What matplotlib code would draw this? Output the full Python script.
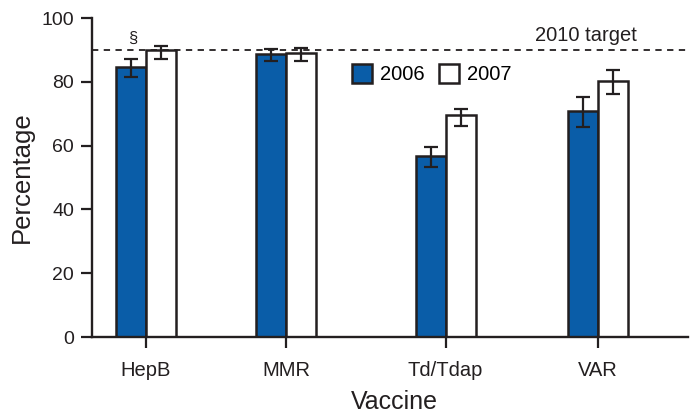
import matplotlib
matplotlib.use("Agg")
import matplotlib.pyplot as plt
from matplotlib.patches import Rectangle
import numpy as np

plt.rcParams['font.family'] = ['Liberation Sans', 'DejaVu Sans']

categories = ["HepB", "MMR", "Td/Tdap", "VAR"]
years = ["2006", "2007"]
vals_2006 = [84.6, 88.7, 56.7, 70.9]
lo_2006 = [81.5, 86.5, 53.3, 65.8]
hi_2006 = [87.1, 90.3, 59.6, 75.2]
vals_2007 = [90.0, 89.0, 69.6, 80.2]
lo_2007 = [87.1, 86.5, 66.1, 76.2]
hi_2007 = [91.2, 90.6, 71.5, 83.7]
target = 90
yticks = [0, 20, 40, 60, 80, 100]

pos = np.array([0, 1, 2.14, 3.23])
w = 0.214
blue = "#0A5DA8"
dark = "#231F20"

fig = plt.figure(figsize=(6.91, 4.13), dpi=100)
ax = fig.add_axes([0.1331, 0.184, 0.8625, 0.772])

v6 = np.array(vals_2006); v7 = np.array(vals_2007)
err6 = [v6 - np.array(lo_2006), np.array(hi_2006) - v6]
err7 = [v7 - np.array(lo_2007), np.array(hi_2007) - v7]
ax.bar(pos - w/2, v6, w, color=blue, edgecolor=dark, linewidth=1.8, zorder=2)
ax.bar(pos + w/2, v7, w, color="white", edgecolor=dark, linewidth=1.8, zorder=2)
ax.errorbar(pos - w/2, v6, yerr=err6, fmt="none", ecolor=dark, elinewidth=1.6, capsize=5, capthick=1.6, zorder=3)
ax.errorbar(pos + w/2, v7, yerr=err7, fmt="none", ecolor=dark, elinewidth=1.6, capsize=5, capthick=1.6, zorder=3)

ax.axhline(target, color=dark, linestyle=(0, (3.5, 3)), linewidth=1.3, zorder=1)
ax.text(0.828, 0.915, "2010 target", transform=ax.transAxes, ha="center", va="bottom", fontsize=14.5, color=dark)
ax.text(pos[0] - w/2 + 0.01, 91.3, "§", ha="center", va="bottom", fontsize=12, color=dark)

ax.set_xlim(-0.386, 3.871)
ax.set_ylim(0, 100)
ax.set_xticks(pos)
ax.set_xticklabels(categories, fontsize=14.5, color=dark)
ax.set_yticks(yticks)
ax.set_yticklabels([str(t) for t in yticks], fontsize=14, color=dark)
ax.set_xlabel("Vaccine", fontsize=18, color=dark)
ax.xaxis.set_label_coords(0.508, -0.167)
ax.set_ylabel("Percentage", fontsize=18.5, color=dark, labelpad=5)
ax.tick_params(axis="both", direction="out", length=8, width=1.6, color=dark)
ax.tick_params(axis="x", pad=9)
ax.tick_params(axis="y", pad=5)
for s in ["top", "right"]:
    ax.spines[s].set_visible(False)
for s in ["left", "bottom"]:
    ax.spines[s].set_linewidth(1.7)
    ax.spines[s].set_color(dark)

# legend
handles = [Rectangle((0, 0), 1, 1, facecolor=blue, edgecolor=dark, linewidth=1.8),
           Rectangle((0, 0), 1, 1, facecolor="white", edgecolor=dark, linewidth=1.8)]
leg = ax.legend(handles, years, loc="upper left", bbox_to_anchor=(0.423, 0.88), ncol=2, frameon=False,
                fontsize=14.5, handlelength=1.0, handleheight=1.0, handletextpad=0.4, columnspacing=0.7,
                borderaxespad=0)

fig.savefig("out.png", dpi=100)
